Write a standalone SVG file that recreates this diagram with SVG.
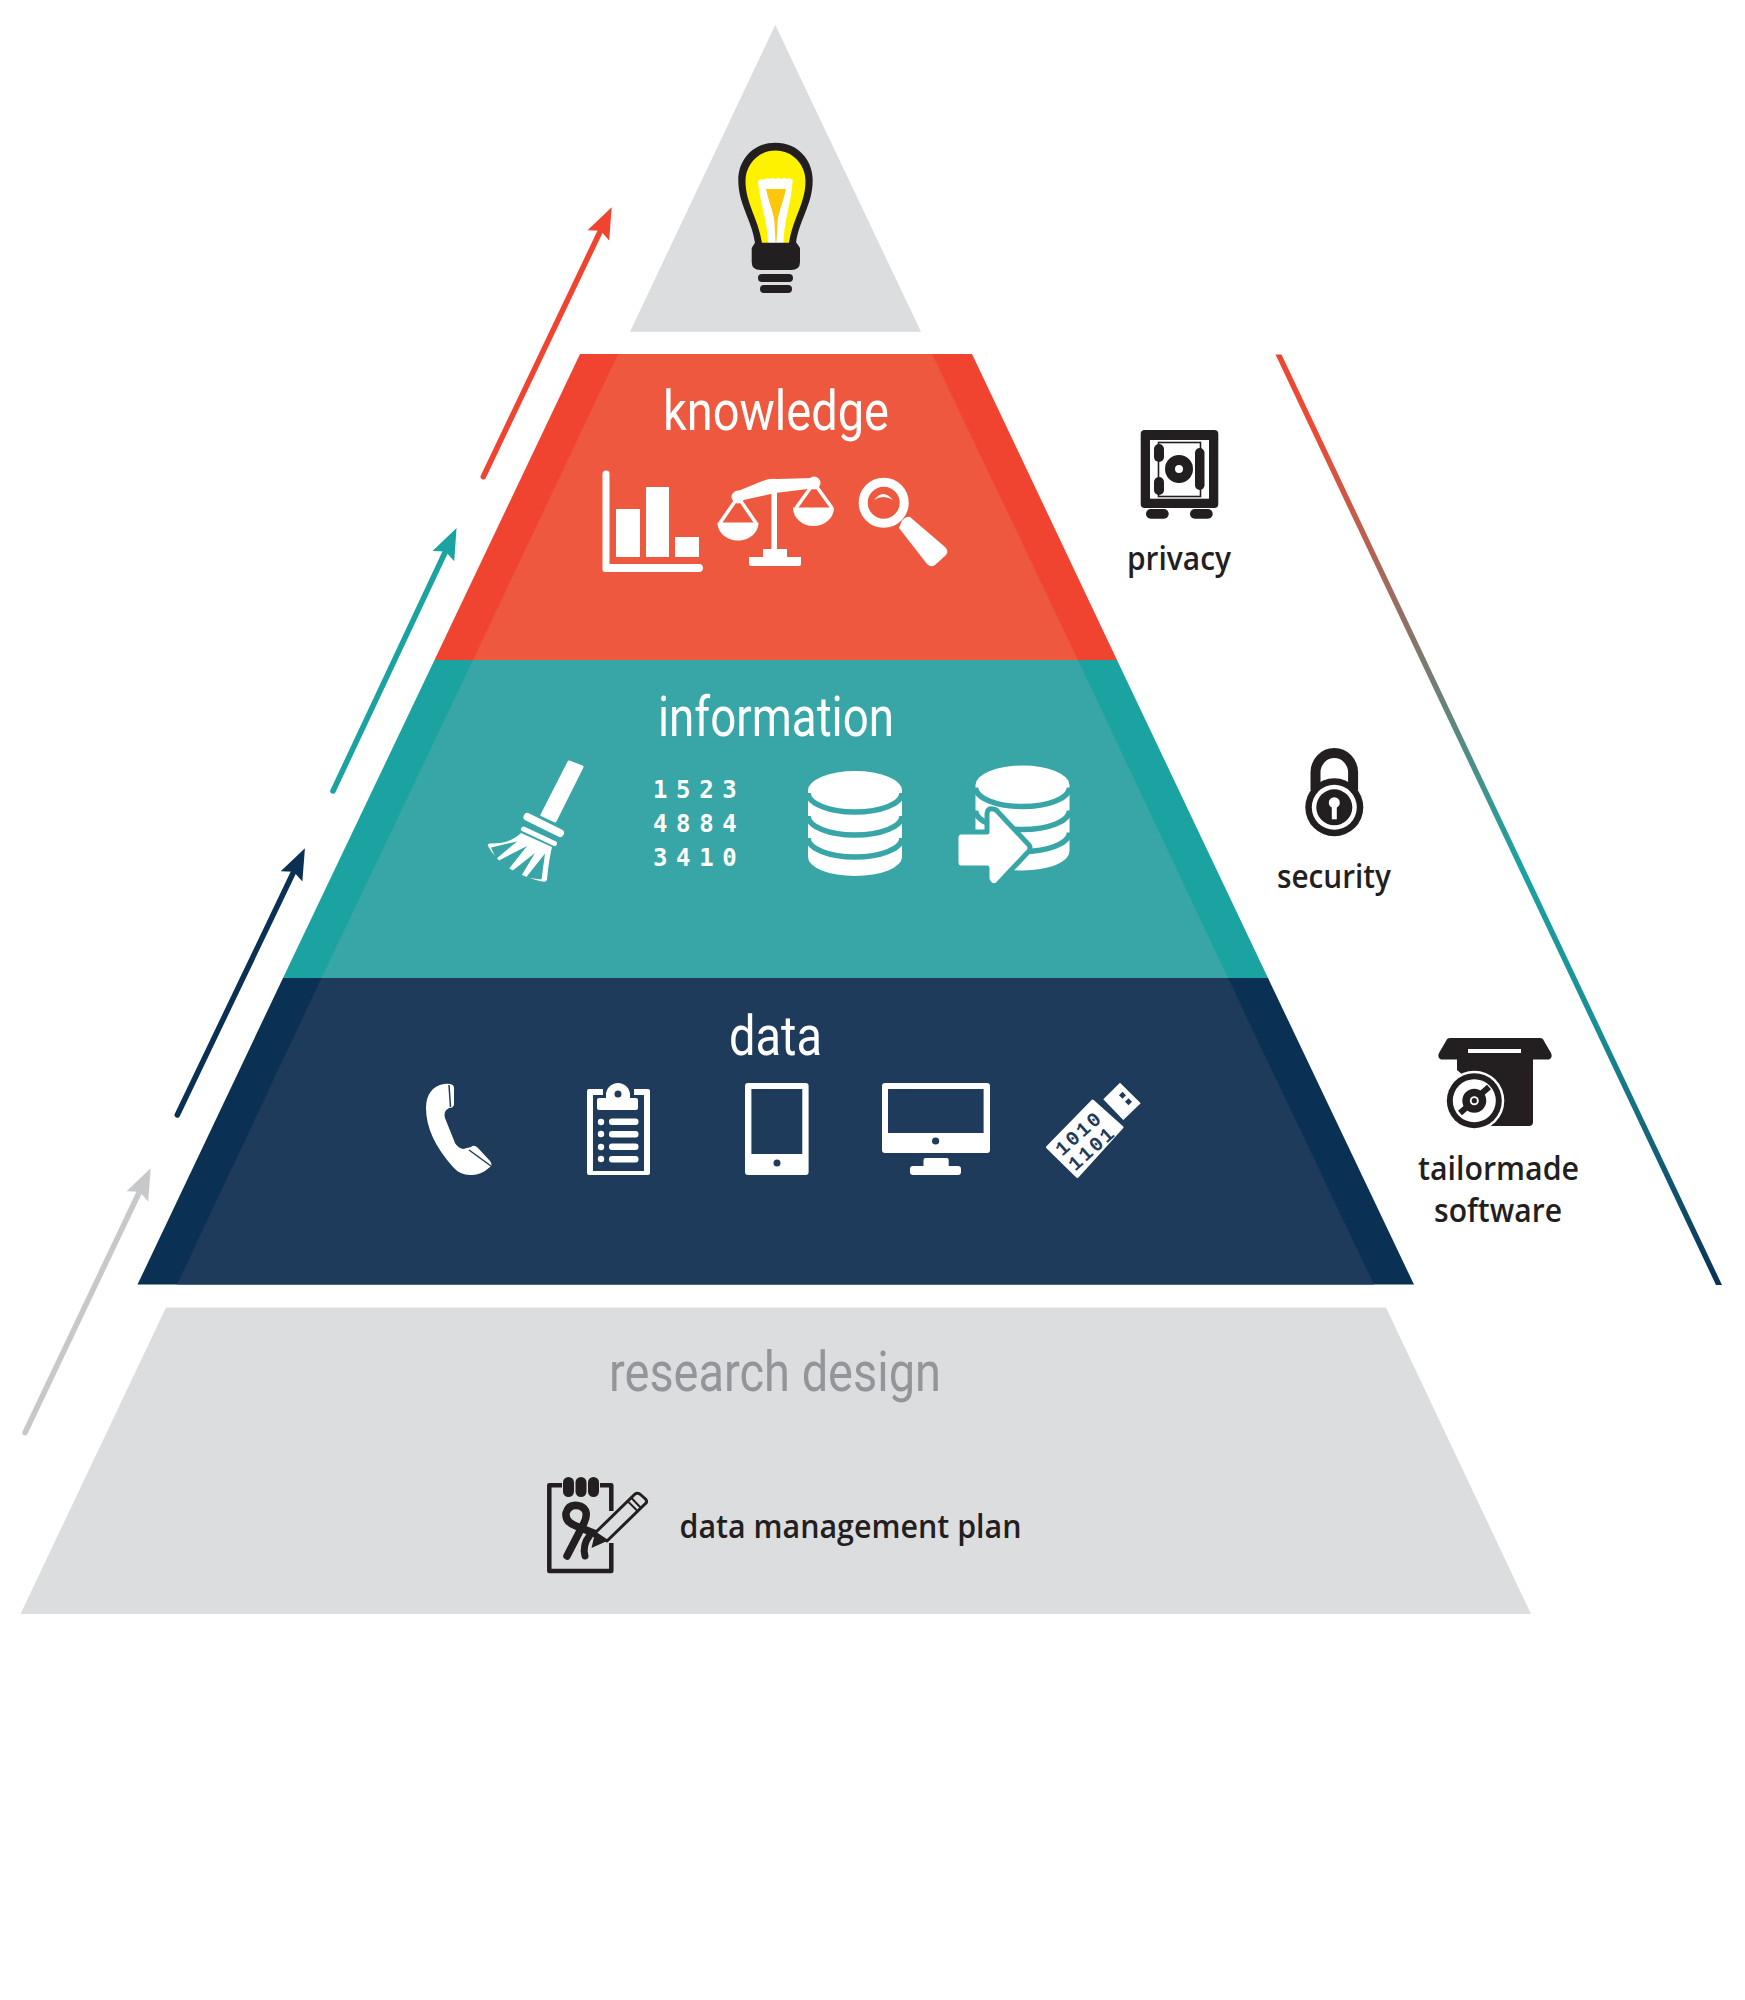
<svg xmlns="http://www.w3.org/2000/svg" width="1745" height="2000" viewBox="0 0 1745 2000">
<style>
.h{font-family:"Liberation Sans Narrow",Roboto,"Liberation Sans",sans-serif;font-weight:400;font-size:55px;text-anchor:start}
.l{font-family:"Open Sans","Noto Sans",sans-serif;font-size:32px;font-weight:600;fill:#231f20}
.w{fill:#fff}
.d{fill:#231f20}
.nv{fill:#1f3b5b}
.tl{fill:#38a6a7}
.num{font-family:"DejaVu Sans Mono","Liberation Mono",monospace;font-weight:700;font-size:24px;letter-spacing:-2.9px;fill:#fff}
.bin{font-family:"Liberation Mono",monospace;font-weight:700;font-size:20px;letter-spacing:2px;fill:#1f3b5b;text-anchor:middle}
.arr{stroke-width:5.5;stroke-linecap:round;fill:none}
</style>
<defs>
<linearGradient id="g" gradientUnits="userSpaceOnUse" x1="1278" y1="354" x2="1719" y2="1285">
<stop offset="0" stop-color="#f04430"/><stop offset="0.08" stop-color="#ee4a34"/><stop offset="0.55" stop-color="#1aa3a1"/><stop offset="0.72" stop-color="#1a8f96"/><stop offset="1" stop-color="#0a3154"/>
</linearGradient>
<marker id="ar" markerUnits="userSpaceOnUse" orient="auto" overflow="visible" markerWidth="40" markerHeight="40"><path d="M26,0L-5,-12L0,0L-5,12Z" fill="#f04430"/></marker>
<marker id="at" markerUnits="userSpaceOnUse" orient="auto" overflow="visible" markerWidth="40" markerHeight="40"><path d="M26,0L-5,-12L0,0L-5,12Z" fill="#1aa3a1"/></marker>
<marker id="an" markerUnits="userSpaceOnUse" orient="auto" overflow="visible" markerWidth="40" markerHeight="40"><path d="M26,0L-5,-12L0,0L-5,12Z" fill="#0a3154"/></marker>
<marker id="ag" markerUnits="userSpaceOnUse" orient="auto" overflow="visible" markerWidth="40" markerHeight="40"><path d="M26,0L-5,-12L0,0L-5,12Z" fill="#c7c8ca"/></marker>
</defs>
<rect width="1745" height="2000" fill="#fff"/>

<g id="wisdom">
<polygon points="775.3,25 921,331.7 630,331.7" fill="#dcdddf"/>
<path class="d" d="M775.5,142.7C753,142.7 738.3,160 738.3,180C738.3,205 752,220 755,243L796,243C799,220 812.7,205 812.7,180C812.7,160 798,142.7 775.5,142.7Z"/>
<path fill="#fff200" d="M775.5,150.5C758,150.5 745.5,165 745.5,181C745.5,203 758,218 762,243H789C793,218 805.5,203 805.5,181C805.5,165 793,150.5 775.5,150.5Z"/>
<path class="w" d="M758,181q3,-3 5.8,-1q3,-3 5.8,-1q3,-2 5.8,0q3,-2 5.8,0q3,-2 5.8,0q3,-2 5.7,1C791,205 784,220 783.5,243H768C767.5,220 760,205 758,181Z"/>
<path fill="#fdc70c" d="M766,189H786C784,200 779,210 777.5,222L776.5,242H775.5L774.5,222C773,210 768,200 766,189Z"/>
<path class="d" d="M755,242.7H796.5L800,248V262Q800,270 791,270H760.5Q751.7,270 751.7,262V248Z"/>
<rect class="d" x="758" y="274" width="35" height="8" rx="4"/>
<rect class="d" x="760" y="285" width="32" height="8" rx="4"/>
</g>

<g id="knowledge">
<polygon points="580,354 972,354 1117,660 434.5,660" fill="#f04430"/>
<polygon points="618,354 932,354 1078,660 473,660" fill="#ee583f"/>
<text class="h w" x="663" y="430" textLength="226" lengthAdjust="spacingAndGlyphs">knowledge</text>
<path class="w" d="M602.5,474a3.5,3.5 0 0 1 7,0V564H699a4,4 0 0 1 0,8H605a2.5,2.5 0 0 1 -2.5,-2.5Z"/>
<rect class="w" x="616" y="509" width="24" height="48"/><rect class="w" x="646" y="487" width="23" height="70"/><rect class="w" x="675" y="537" width="24" height="20"/>
<path class="w" d="M771.4,490H777V549H787V557H801V564a2,2 0 0 1 -2,2H751a2,2 0 0 1 -2,-2V557H763V549H771.4Z"/>
<path class="w" d="M738,491L760,482Q769,478 777,479L814,478L816,488L775,493L739,501Z"/>
<circle class="w" cx="738" cy="497" r="6.5"/><circle class="w" cx="814" cy="483" r="6.5"/>
<path d="M738,497L720,523M738,497L756,523M814,483L796,508M814,483L832,508" stroke="#fff" stroke-width="3.5" fill="none"/>
<path class="w" d="M717.5,522.5H758.5C758.5,533 749,540.5 738,540.5C727,540.5 717.5,533 717.5,522.5Z"/>
<path class="w" d="M793,507.5H834C834,518 825,526 813.5,526C802,526 793,518 793,507.5Z"/>
<circle cx="883.7" cy="502.7" r="20.5" fill="none" stroke="#fff" stroke-width="9"/>
<path class="w" d="M874,500Q883,488 893,500Q883,494 874,500Z"/>
<path class="w" d="M899,528Q903,515 910,517L945,547Q949,551 946,555L935,565Q931,568 927,564Z"/>
</g>

<g id="information">
<polygon points="434.5,660 1117,660 1268,978 283,978" fill="#1aa3a1"/>
<polygon points="473,660 1078,660 1228,978 321.5,978" class="tl"/>
<text class="h w" x="658" y="736" textLength="236" lengthAdjust="spacingAndGlyphs">information</text>
<polygon class="w" stroke="#fff" stroke-width="3" stroke-linejoin="round" points="569,762 582,767 555,821 542,815"/>
<path d="M527.5,817L560,833" stroke="#fff" stroke-width="8" stroke-linecap="round"/>
<path d="M523.5,829L554.5,843.5" stroke="#fff" stroke-width="5" stroke-linecap="round"/>
<path class="w" d="M521,833L552,847C549,860 548,870 547,880Q546,882 544,881.7C525,878 500,868 488,846Q487,844 490,843.5C503,844 514,840 521,833Z"/>
<path class="tl" d="M491,847.5L517,841.5L496,859ZM499,860.5L527,846L508,870ZM511.5,871.5L535,853L520,878ZM526,877.5L545,853.5L541.5,879.5Z"/>
<text class="num" x="653" y="798" xml:space="preserve">1 5 2 3</text>
<text class="num" x="653" y="832" xml:space="preserve">4 8 8 4</text>
<text class="num" x="653" y="866" xml:space="preserve">3 4 1 0</text>
<g id="db1"><path class="w" d="M808,790.5A47,19.5 0 0 1 902,790.5V857A47,19 0 0 1 808,857Z"/>
<path d="M808,793A47,19 0 0 0 902,793M808,816A47,19 0 0 0 902,816M808,838A47,19 0 0 0 902,838" fill="none" stroke="#38a6a7" stroke-width="5.5"/></g>
<g id="db2" transform="translate(167.5,-5.5)"><path class="w" d="M808,790.5A47,19.5 0 0 1 902,790.5V857A47,19 0 0 1 808,857Z"/>
<path d="M808,793A47,19 0 0 0 902,793M808,816A47,19 0 0 0 902,816M808,838A47,19 0 0 0 902,838" fill="none" stroke="#38a6a7" stroke-width="5.5"/></g>
<path class="w" stroke="#38a6a7" stroke-width="5" stroke-linejoin="round" d="M961,832H987V814Q987,808 993,809Q996,809 998,812L1029,845Q1031,848 1029,851L998,884Q994,888 990,884Q987,882 987,878V868H961Q956,868 956,862V838Q956,832 961,832Z"/>
</g>

<g id="data">
<polygon points="283,978 1268,978 1414,1284.6 137.5,1284.6" fill="#0a3154"/>
<polygon points="321.5,978 1228,978 1374,1284.6 177,1284.6" class="nv"/>
<text class="h w" x="729" y="1055" textLength="93" lengthAdjust="spacingAndGlyphs">data</text>
<g id="phone"><path class="w" d="M444,1084Q454,1083 454,1088V1104Q454,1108 449,1108Q443,1111 445,1118L455,1143Q458,1148 463,1149L471,1147Q474,1144 478,1148L490,1161Q493,1165 490,1167Q480,1176 470,1175Q460,1175 453,1167C436,1148 426,1128 426,1108C426,1095 432,1086 444,1084Z"/>
<path d="M449,1085L450.5,1107M469,1150L491,1166" stroke="#1f3b5b" stroke-width="1.5" fill="none"/></g>
<g id="clipboard"><path class="w" d="M589,1089H603V1095H593V1171H644V1095H634V1089H648a2,2 0 0 1 2,2V1173a2,2 0 0 1 -2,2H589a2,2 0 0 1 -2,-2V1091a2,2 0 0 1 2,-2Z"/>
<path class="w" d="M606,1095a12,12 0 0 1 24,0V1098H636a2,2 0 0 1 2,2V1108a2,2 0 0 1 -2,2H599a2,2 0 0 1 -2,-2V1100a2,2 0 0 1 2,-2H606Z"/>
<circle class="nv" cx="618" cy="1094" r="3.5"/>
<g class="w"><circle cx="601" cy="1122" r="3.2"/><circle cx="601" cy="1134" r="3.2"/><circle cx="601" cy="1147" r="3.2"/><circle cx="601" cy="1159" r="3.2"/>
<rect x="609" y="1118.5" width="29.5" height="6.5" rx="3"/><rect x="609" y="1131" width="29.5" height="6.5" rx="3"/><rect x="609" y="1143.5" width="29.5" height="6.5" rx="3"/><rect x="609" y="1156" width="29.5" height="6.5" rx="3"/></g></g>
<g id="tablet"><rect class="w" x="745" y="1083" width="63.6" height="92" rx="3"/><rect class="nv" x="751.4" y="1089" width="50.9" height="65"/><circle class="nv" cx="777" cy="1163" r="3.5"/></g>
<g id="monitor"><rect class="w" x="882" y="1083" width="108" height="70" rx="3"/><rect class="nv" x="888" y="1089" width="95.6" height="44"/><circle class="nv" cx="935.6" cy="1141" r="3.6"/>
<path class="w" d="M923.5,1160a2,2 0 0 1 2,-2H946.7a2,2 0 0 1 2,2V1166H958a3,3 0 0 1 3,3V1172a3,3 0 0 1 -3,3H913a3,3 0 0 1 -3,-3V1169a3,3 0 0 1 3,-3H923.5Z"/></g>
<g id="usb"><polygon class="w" stroke="#fff" stroke-width="3" stroke-linejoin="round" points="1092.7,1101 1122,1127.3 1077.3,1176.5 1047.5,1147.3"/>
<polygon class="w" points="1120,1082.7 1140.7,1103.3 1123.3,1120 1103.3,1099.3"/>
<rect class="nv" x="1120" y="1092.7" width="5" height="5" transform="rotate(45 1122.5 1095.2)"/><rect class="nv" x="1126" y="1099.2" width="5" height="5" transform="rotate(45 1128.5 1101.7)"/>
<text class="bin" transform="translate(1083,1138) rotate(-42)">1010</text>
<text class="bin" transform="translate(1096,1153) rotate(-42)">1101</text></g>
</g>

<g id="research-design">
<polygon points="166,1307.5 1386,1307.5 1531,1614 20.5,1614" fill="#dcdddf"/>
<text class="h" x="609" y="1391" fill="#939598" textLength="332" lengthAdjust="spacingAndGlyphs">research design</text>
<g id="notepad">
<path d="M562,1485.3H549.3V1571H611.3V1543M611.3,1511V1485.3H600" fill="none" stroke="#231f20" stroke-width="4.5" stroke-linejoin="round"/>
<rect class="d" x="563" y="1477" width="11" height="20" rx="5.5"/><rect class="d" x="575.5" y="1477" width="11" height="20" rx="5.5"/><rect class="d" x="588" y="1477" width="11" height="20" rx="5.5"/>
<path d="M567,1556L584,1523Q590,1510 580,1506Q569,1503 566,1513Q565,1522 576,1526L596,1534" fill="none" stroke="#231f20" stroke-width="7.5" stroke-linecap="round"/>
<path d="M585,1556Q582,1545 590,1535" fill="none" stroke="#231f20" stroke-width="7" stroke-linecap="round"/>
<path d="M595,1533L635,1494Q638,1492 641,1495L645.5,1499Q648,1502 645,1504L607,1541Z" fill="#dcdddf" stroke="#231f20" stroke-width="3" stroke-linejoin="round"/>
<path class="d" d="M595,1533L591.5,1548L607,1541Z"/>
<path d="M628,1501.5L638.5,1512M631.5,1498L641,1508" stroke="#231f20" stroke-width="2" fill="none"/>
</g>
<text class="l" x="679.5" y="1538" textLength="342" lengthAdjust="spacingAndGlyphs">data management plan</text>
</g>

<g id="privacy">
<rect class="d" x="1140.7" y="430" width="77.6" height="78" rx="4"/>
<rect class="w" x="1150" y="440" width="59" height="58.7"/>
<rect x="1158.5" y="442.5" width="42" height="54" fill="none" stroke="#231f20" stroke-width="1.6"/>
<rect class="d" x="1154" y="444" width="10" height="18" rx="5"/><rect class="d" x="1154" y="477" width="10" height="18" rx="5"/>
<rect class="d" x="1195" y="448" width="9.5" height="42" rx="4.7"/>
<circle cx="1179" cy="469" r="9" fill="none" stroke="#231f20" stroke-width="10"/>
<rect class="d" x="1146" y="509" width="22.7" height="9.7" rx="4.8"/><rect class="d" x="1190" y="509" width="22.7" height="9.7" rx="4.8"/>
<text class="l" x="1127" y="570" textLength="104" lengthAdjust="spacingAndGlyphs">privacy</text>
</g>

<g id="security">
<path d="M1315.5,790V772.5a18.8,19.5 0 0 1 37.6,0V790" fill="none" stroke="#231f20" stroke-width="10"/>
<circle class="d" cx="1334.3" cy="807.3" r="29"/><circle class="w" cx="1334.3" cy="807.3" r="22.5"/><circle class="d" cx="1334.3" cy="807.3" r="18"/>
<circle class="w" cx="1334.3" cy="802.7" r="5.5"/><rect class="w" x="1331.8" y="803" width="5" height="16.3"/>
<text class="l" x="1277" y="888" textLength="114" lengthAdjust="spacingAndGlyphs">security</text>
</g>

<g id="tailormade-software">
<path class="d" d="M1450,1038H1540Q1543,1038 1544,1041L1551,1053Q1553,1058 1549,1059.5H1533V1122Q1533,1126 1529,1126H1461V1120A32,32 0 0 0 1457,1070V1059.5H1441Q1437,1058 1439,1053L1446,1041Q1447,1038 1450,1038Z"/>
<rect class="w" x="1468" y="1049" width="53" height="4"/>
<circle class="w" cx="1474.3" cy="1100.7" r="30"/>
<circle class="d" cx="1474.3" cy="1100.7" r="27.5"/><circle class="w" cx="1474.3" cy="1100.7" r="21.5"/><circle class="d" cx="1474.3" cy="1100.7" r="12"/>
<path d="M1481,1094L1489,1087M1467,1107L1460,1113" stroke="#231f20" stroke-width="6" fill="none"/>
<circle class="w" cx="1474.3" cy="1100.7" r="4.5"/><circle class="d" cx="1474.3" cy="1100.7" r="2.6"/>
<text class="l" x="1418" y="1180" textLength="161" lengthAdjust="spacingAndGlyphs">tailormade</text>
<text class="l" x="1434" y="1222" textLength="128" lengthAdjust="spacingAndGlyphs">software</text>
</g>

<g id="connectors">
<line class="arr" x1="25" y1="1432.7" x2="139.5" y2="1191.8" stroke="#c7c8ca" marker-end="url(#ag)"/>
<line class="arr" x1="177.3" y1="1115" x2="293.7" y2="871.8" stroke="#0a3154" marker-end="url(#an)"/>
<line class="arr" x1="333" y1="791" x2="445.5" y2="551.5" stroke="#1aa3a1" marker-end="url(#at)"/>
<line class="arr" x1="483.3" y1="476.7" x2="600.5" y2="230.8" stroke="#f04430" marker-end="url(#ar)"/>
<polygon points="1275.5,354.6 1281.5,354.6 1722,1285 1716,1285" fill="url(#g)"/>
</g>
</svg>
